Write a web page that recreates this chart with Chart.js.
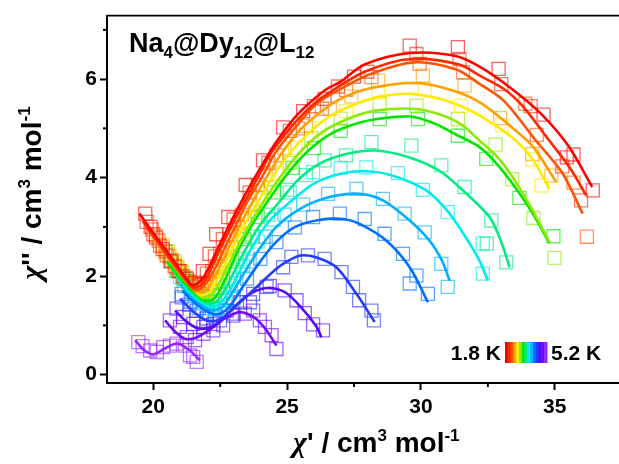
<!DOCTYPE html>
<html>
<head>
<meta charset="utf-8">
<script src="https://cdn.jsdelivr.net/npm/chart.js@4.4.1/dist/chart.umd.min.js"></script>
<style>
  html, body { margin: 0; padding: 0; background: #fff; overflow: hidden; }
  canvas { display: block; }
</style>
</head>
<body>
<canvas id="coleColeChart" width="619" height="464"></canvas>
<script>
// Cole-Cole data, chi' (x) vs chi'' (y), one pair of arrays per temperature
const temps = ['1.8', '2.0', '2.2', '2.4', '2.6', '2.8', '3.0', '3.2', '3.4', '3.6', '3.8', '4.0', '4.4', '4.8', '5.2'];

const fit18 = [[19.48,3.27],[20.0,2.88],[20.5,2.51],[21.0,2.13],[21.45,1.82],[21.8,1.92],[22.1,2.2],[22.4,2.55],[22.9,3.1],[23.5,3.72],[24.2,4.38],[24.55,4.69],[25.35,5.26],[26.4,5.77],[27.0,5.95],[27.9,6.3],[29.6,6.53],[31.3,6.47],[32.3,6.22],[33.4,5.8],[34.5,5.29],[35.5,4.65],[36.4,3.81]];
const exp18 = [[19.7,3.27],[19.9,3.0],[20.1,2.78],[20.35,2.55],[20.65,2.3],[20.95,2.1],[21.25,1.95],[21.55,1.87],[21.85,2.1],[22.1,2.45],[22.35,2.85],[22.8,3.2],[23.45,3.85],[24.1,4.35],[24.85,5.02],[25.6,5.35],[26.4,5.6],[27.5,6.05],[29.58,6.68],[31.38,6.65],[32.9,6.21],[34.58,5.28],[35.45,4.41],[35.7,4.47],[36.42,3.74]];

const fit20 = [[19.6,3.12],[20.1,2.75],[20.6,2.38],[21.1,2.02],[21.5,1.77],[21.85,1.85],[22.2,2.2],[22.5,2.55],[23.0,3.1],[23.4,3.5],[24.0,4.1],[24.4,4.5],[25.3,5.12],[26.0,5.5],[26.5,5.7],[27.9,6.15],[29.6,6.41],[31.4,6.3],[32.2,6.07],[33.1,5.8],[33.8,5.45],[34.7,4.82],[35.55,4.21],[36.17,3.64]];
const exp20 = [[19.75,3.1],[20.0,2.85],[20.25,2.62],[20.5,2.42],[20.8,2.2],[21.1,2.0],[21.4,1.85],[21.7,1.82],[22.0,2.05],[22.3,2.4],[22.6,2.75],[23.0,3.15],[23.6,3.7],[24.3,4.3],[25.1,4.95],[26.0,5.45],[26.9,5.85],[28.0,6.15],[29.83,6.51],[31.44,6.41],[33.0,5.9],[34.1,5.45],[35.28,4.23],[35.98,3.54]];

const fit22 = [[19.75,2.98],[20.2,2.66],[20.7,2.28],[21.15,1.96],[21.55,1.72],[21.9,1.8],[22.3,2.15],[22.6,2.5],[23.1,3.05],[23.5,3.5],[24.1,4.05],[24.55,4.5],[25.4,5.08],[26.1,5.5],[27.0,5.8],[28.0,6.08],[29.7,6.34],[31.3,6.2],[32.2,5.9],[33.1,5.56],[34.3,4.75],[35.3,4.08],[36.04,3.27]];
const exp22 = [[19.95,2.95],[20.2,2.72],[20.45,2.5],[20.7,2.32],[21.0,2.1],[21.3,1.9],[21.6,1.78],[21.9,1.85],[22.2,2.1],[22.5,2.45],[22.85,2.85],[23.3,3.25],[23.9,3.85],[24.6,4.45],[25.4,5.0],[26.3,5.4],[27.2,5.78],[28.15,6.04],[29.95,6.31],[31.57,6.14],[33.9,5.5],[34.33,4.87],[35.7,3.9],[36.2,2.8]];

const fit24 = [[19.95,2.82],[20.4,2.48],[20.85,2.15],[21.25,1.88],[21.65,1.68],[22.0,1.74],[22.4,2.1],[22.75,2.5],[23.2,3.0],[23.7,3.5],[24.2,3.98],[24.8,4.5],[25.5,4.98],[26.3,5.35],[27.0,5.6],[28.0,5.8],[29.7,5.92],[31.0,5.8],[32.2,5.53],[33.4,5.02],[34.2,4.62],[35.05,3.91]];
const exp24 = [[20.1,2.82],[20.35,2.6],[20.6,2.4],[20.9,2.18],[21.2,1.98],[21.5,1.82],[21.8,1.72],[22.1,1.85],[22.4,2.2],[22.75,2.6],[23.15,3.05],[23.6,3.45],[24.2,4.05],[24.9,4.6],[25.7,5.05],[26.6,5.4],[27.4,5.65],[28.4,5.97],[30.07,6.07],[31.63,5.87],[32.96,5.21],[34.16,4.48],[34.87,4.04]];

const fit26 = [[20.2,2.66],[20.6,2.35],[21.0,2.05],[21.4,1.8],[21.75,1.62],[22.1,1.68],[22.5,2.05],[22.9,2.5],[23.4,3.05],[23.9,3.5],[24.5,4.05],[25.1,4.5],[25.9,4.95],[26.7,5.28],[27.6,5.5],[28.5,5.65],[29.6,5.7],[30.7,5.6],[31.5,5.45],[32.2,5.26],[33.4,4.82],[34.2,4.35],[34.8,3.77]];
const exp26 = [[20.35,2.65],[20.6,2.45],[20.85,2.25],[21.1,2.05],[21.4,1.85],[21.7,1.7],[22.0,1.7],[22.3,1.95],[22.65,2.35],[23.0,2.75],[23.5,3.15],[24.0,3.6],[24.6,4.1],[25.3,4.6],[26.2,5.0],[27.2,5.35],[28.4,5.73],[30.14,5.8],[31.5,5.46],[33.04,5.06],[34.16,4.37],[34.5,3.84]];

const fit28 = [[20.4,2.5],[20.8,2.2],[21.2,1.92],[21.55,1.7],[21.85,1.56],[22.2,1.62],[22.6,2.0],[23.05,2.5],[23.6,3.05],[24.1,3.5],[24.7,3.98],[25.45,4.5],[26.3,4.92],[27.3,5.2],[28.3,5.36],[29.7,5.4],[30.6,5.3],[31.5,5.08],[32.19,4.75],[32.8,4.45],[33.43,4.01],[34.18,3.33],[34.8,2.69]];
const exp28 = [[20.55,2.5],[20.8,2.3],[21.05,2.1],[21.3,1.9],[21.6,1.72],[21.9,1.62],[22.2,1.7],[22.5,2.0],[22.85,2.4],[23.3,2.85],[23.8,3.3],[24.4,3.8],[25.1,4.3],[25.9,4.8],[27.0,5.2],[28.46,5.5],[29.83,5.46],[31.38,5.19],[32.79,4.67],[33.41,3.97],[34.2,3.18],[34.99,2.37]];

const fit30 = [[20.5,2.3],[20.9,2.03],[21.3,1.78],[21.6,1.62],[21.95,1.5],[22.3,1.56],[22.7,1.95],[23.15,2.5],[23.7,3.05],[24.25,3.5],[24.9,4.0],[25.7,4.5],[26.6,4.88],[27.6,5.1],[28.5,5.2],[29.6,5.24],[30.5,5.1],[31.4,4.85],[32.19,4.62],[32.8,4.3],[33.43,3.87],[34.18,3.27],[34.8,2.67]];
const exp30 = [[20.65,2.3],[20.9,2.12],[21.15,1.95],[21.4,1.8],[21.7,1.65],[22.0,1.55],[22.3,1.6],[22.6,1.9],[22.95,2.3],[23.4,2.75],[23.9,3.2],[24.5,3.7],[25.2,4.2],[26.0,4.6],[27.0,4.95],[28.46,5.19],[29.89,5.19],[31.38,4.85],[32.44,4.38],[33.68,3.59],[34.95,2.81]];

const fit32 = [[20.7,2.12],[21.1,1.88],[21.5,1.65],[21.8,1.5],[22.05,1.44],[22.4,1.5],[22.8,1.85],[23.4,2.5],[24.0,3.05],[24.7,3.5],[25.4,3.95],[26.2,4.28],[27.2,4.48],[28.3,4.55],[29.57,4.41],[30.69,4.14],[31.57,3.74],[32.56,3.2],[33.0,2.7],[33.31,2.18]];
const exp32 = [[20.85,2.1],[21.1,1.95],[21.35,1.8],[21.6,1.65],[21.9,1.52],[22.2,1.48],[22.5,1.62],[22.85,1.95],[23.25,2.35],[23.7,2.8],[24.3,3.25],[25.0,3.75],[25.7,4.05],[26.4,4.35],[27.2,4.45],[28.15,4.72],[29.64,4.65],[30.76,4.25],[31.63,3.81],[32.63,3.13],[32.46,2.66],[33.19,2.28]];

const fit34 = [[20.87,1.98],[21.3,1.7],[21.7,1.5],[22.1,1.38],[22.5,1.45],[22.9,1.75],[23.6,2.5],[24.3,3.1],[25.1,3.5],[26.0,3.88],[27.0,4.08],[27.96,4.13],[28.96,4.04],[30.2,3.74],[31.07,3.27],[31.82,2.66],[32.2,2.3],[32.5,1.91]];
const exp34 = [[21.0,1.98],[21.3,1.8],[21.6,1.6],[21.9,1.46],[22.2,1.4],[22.5,1.5],[22.9,1.8],[23.35,2.2],[23.9,2.7],[24.5,3.15],[25.1,3.7],[25.97,4.11],[27.0,4.2],[27.96,4.21],[29.14,4.09],[30.07,3.75],[31.0,3.3],[32.31,2.66],[32.31,2.05]];

const fit36 = [[21.0,1.85],[21.4,1.6],[21.8,1.42],[22.2,1.3],[22.6,1.38],[23.1,1.8],[23.9,2.5],[24.6,3.0],[25.6,3.4],[26.7,3.62],[27.71,3.67],[28.58,3.54],[29.58,3.13],[30.32,2.72],[30.8,2.3],[31.07,1.91]];
const exp36 = [[21.15,1.8],[21.45,1.6],[21.75,1.45],[22.05,1.35],[22.35,1.32],[22.7,1.5],[23.1,1.85],[23.6,2.3],[24.2,2.8],[24.9,3.25],[25.6,3.45],[26.53,3.67],[27.59,3.77],[28.58,3.57],[29.39,3.27],[30.14,2.89],[30.76,2.25],[31.0,1.78]];

const fit38 = [[21.1,1.7],[21.5,1.48],[21.9,1.32],[22.35,1.22],[22.8,1.35],[23.3,1.75],[24.0,2.3],[24.6,2.7],[25.3,3.0],[26.2,3.14],[27.1,3.16],[27.71,3.06],[28.71,2.72],[29.58,2.18],[30.26,1.47]];
const exp38 = [[21.06,1.64],[21.4,1.48],[21.7,1.35],[22.0,1.27],[22.3,1.2],[22.65,1.3],[23.0,1.55],[23.5,1.95],[24.0,2.35],[24.6,2.69],[25.29,2.99],[25.97,3.2],[26.97,3.27],[27.9,3.16],[28.64,2.86],[29.33,2.45],[29.83,2.01],[29.58,1.85],[30.26,1.64]];

const fit40 = [[21.0,1.54],[21.5,1.28],[21.99,1.1],[22.5,1.12],[23.0,1.35],[23.86,1.78],[24.6,2.15],[25.0,2.3],[25.5,2.42],[26.1,2.38],[26.84,2.18],[27.59,1.64],[28.27,1.07]];
const exp40 = [[21.06,1.57],[21.35,1.42],[21.62,1.3],[21.99,1.14],[22.49,1.1],[22.99,1.24],[23.61,1.47],[24.23,1.78],[24.85,2.18],[25.16,2.39],[25.78,2.42],[26.4,2.35],[27.03,2.08],[27.46,1.78],[27.69,1.51],[28.15,1.3],[28.24,1.1]];

const fit44 = [[20.81,1.3],[21.3,1.05],[21.74,0.93],[22.3,1.0],[22.8,1.25],[23.5,1.6],[24.23,1.76],[24.9,1.68],[25.5,1.38],[26.1,0.97],[26.28,0.76]];
const exp44 = [[20.87,1.34],[21.12,1.17],[21.49,1.03],[21.87,0.97],[22.24,1.03],[22.74,1.3],[23.24,1.47],[23.73,1.64],[24.35,1.8],[24.91,1.71],[25.35,1.51],[25.66,1.25],[25.97,1.02],[26.34,0.9]];

const fit48 = [[20.44,1.1],[20.8,0.88],[21.18,0.73],[21.6,0.75],[22.2,0.95],[22.7,1.15],[23.24,1.27],[23.8,1.15],[24.2,0.92],[24.6,0.59]];
const exp48 = [[20.62,1.1],[21.0,0.97],[21.25,0.76],[21.56,0.7],[21.87,0.83],[22.24,0.9],[22.61,1.0],[22.99,1.2],[23.42,1.24],[23.73,1.3],[23.98,1.1],[24.17,0.97],[24.42,0.8],[24.6,0.52]];

const fit52 = [[19.32,0.7],[19.65,0.5],[20.0,0.41],[20.4,0.52],[20.87,0.63],[21.3,0.52],[21.74,0.29]];
const exp52 = [[19.44,0.66],[19.6,0.58],[19.88,0.49],[20.13,0.46],[20.37,0.56],[20.62,0.59],[20.87,0.63],[21.18,0.59],[21.37,0.39],[21.49,0.36],[21.62,0.26]];

const fitSets = [fit18, fit20, fit22, fit24, fit26, fit28, fit30, fit32, fit34, fit36, fit38, fit40, fit44, fit48, fit52];
const expSets = [exp18, exp20, exp22, exp24, exp26, exp28, exp30, exp32, exp34, exp36, exp38, exp40, exp44, exp48, exp52];

const xTicks = [20, 25, 30, 35];
const yTicks = [0, 2, 4, 6];

// rainbow, cold (red) to warm (violet)
const rgb = [
    [255, 0, 0], [255, 40, 0], [255, 85, 0], [255, 160, 0], [255, 235, 0],
    [140, 235, 0], [0, 230, 0], [0, 235, 130], [0, 235, 235], [0, 175, 255],
    [0, 110, 255], [35, 60, 255], [85, 10, 255], [115, 10, 245], [150, 40, 255]
];
const lineColors = rgb.map(c => `rgb(${c[0]}, ${c[1]}, ${c[2]})`);
const squareColors = rgb.map(c => `rgba(${c[0]}, ${c[1]}, ${c[2]}, 0.62)`);

const sans = '"Liberation Sans", Arial, Helvetica, sans-serif';

const datasets = [];
fitSets.forEach((fit, i) => {
    datasets.push({
        label: temps[i] + ' K fit',
        data: fit.map(p => ({ x: p[0], y: p[1] })),
        showLine: true,
        borderColor: lineColors[i],
        borderWidth: 2.6,
        pointRadius: 0,
        tension: 0.3,
        order: 0
    });
});
expSets.forEach((exp, i) => {
    datasets.push({
        label: temps[i] + ' K',
        data: exp.map(p => ({ x: p[0], y: p[1] })),
        showLine: false,
        pointStyle: 'rect',
        pointRadius: 9.2,
        borderColor: squareColors[i],
        backgroundColor: 'rgba(0,0,0,0)',
        borderWidth: 1.3,
        order: 1
    });
});

function drawRich(ctx, parts, x, y) {
    parts.forEach(p => {
        ctx.font = p.font;
        ctx.fillText(p.text, x, y + (p.dy || 0));
        x += ctx.measureText(p.text).width;
    });
}
function richWidth(ctx, parts) {
    let w = 0;
    parts.forEach(p => { ctx.font = p.font; w += ctx.measureText(p.text).width; });
    return w;
}

const big = 'bold 28px ' + sans;
const sup = 'bold 17px ' + sans;
const chi = 'bold italic 30px "Liberation Serif", "DejaVu Serif", serif';

// frame top line, minor ticks, labels and the temperature colour bar
const decorPlugin = {
    id: 'decor',
    afterDraw(chart) {
        const ctx = chart.ctx;
        const area = chart.chartArea;
        const xs = chart.scales.x;
        const ys = chart.scales.y;
        ctx.save();
        ctx.strokeStyle = '#000';
        ctx.lineWidth = 1.6;
        ctx.beginPath();
        ctx.moveTo(area.left, area.top);
        ctx.lineTo(chart.width, area.top);
        ctx.stroke();

        ctx.lineWidth = 2;
        [22.5, 27.5, 32.5].forEach(v => {
            const px = xs.getPixelForValue(v);
            ctx.beginPath();
            ctx.moveTo(px, area.bottom);
            ctx.lineTo(px, area.bottom + 4);
            ctx.stroke();
        });
        [1, 3, 5, 7].forEach(v => {
            const py = ys.getPixelForValue(v);
            ctx.beginPath();
            ctx.moveTo(area.left, py);
            ctx.lineTo(area.left - 4, py);
            ctx.stroke();
        });

        ctx.fillStyle = '#000';
        ctx.textBaseline = 'alphabetic';
        ctx.textAlign = 'left';
        const main = 'bold 27px ' + sans;
        const sub = 'bold 17px ' + sans;
        drawRich(ctx, [
            { text: 'Na', font: main }, { text: '4', font: sub, dy: 6 },
            { text: '@Dy', font: main }, { text: '12', font: sub, dy: 6 },
            { text: '@L', font: main }, { text: '12', font: sub, dy: 6 }
        ], 129, 52);

        const xTitle = [
            { text: 'χ', font: chi }, { text: '\'', font: big },
            { text: ' / cm', font: big }, { text: '3', font: sup, dy: -11 },
            { text: ' mol', font: big }, { text: '-1', font: sup, dy: -11 }
        ];
        drawRich(ctx, xTitle, 293, 452);

        const yTitle = [
            { text: 'χ', font: chi }, { text: '\'\'', font: big },
            { text: ' / cm', font: big }, { text: '3', font: sup, dy: -11 },
            { text: ' mol', font: big }, { text: '-1', font: sup, dy: -11 }
        ];
        const yw = richWidth(ctx, yTitle);
        ctx.save();
        ctx.translate(41, 193 + yw / 2);
        ctx.rotate(-Math.PI / 2);
        drawRich(ctx, yTitle, 0, 0);
        ctx.restore();

        // colour bar
        const barX = 505, barY = 342, barW = 42, barH = 21;
        const step = barW / lineColors.length;
        lineColors.forEach((c, i) => {
            ctx.fillStyle = c;
            ctx.fillRect(barX + i * step, barY, step + 0.5, barH);
        });
        ctx.fillStyle = '#000';
        ctx.font = 'bold 21px ' + sans;
        ctx.textAlign = 'right';
        ctx.fillText(temps[0] + ' K', 501, 360);
        ctx.textAlign = 'left';
        ctx.fillText(temps[temps.length - 1] + ' K', 551, 360);
        ctx.restore();
    }
};

const ctxColeCole = document.getElementById('coleColeChart').getContext('2d');
const coleColeChart = new Chart(ctxColeCole, {
    type: 'scatter',
    data: { datasets: datasets },
    options: {
        responsive: false,
        animation: false,
        devicePixelRatio: 1,
        events: [],
        layout: { autoPadding: false, padding: { left: 0, top: 15, right: 0, bottom: 0 } },
        plugins: {
            legend: { display: false },
            tooltip: { enabled: false }
        },
        scales: {
            x: {
                type: 'linear',
                min: 18.27,
                max: 37.4,
                afterFit: scale => { scale.height = 81; },
                afterBuildTicks: scale => { scale.ticks = xTicks.map(v => ({ value: v })); },
                ticks: {
                    color: '#000',
                    padding: 5,
                    maxRotation: 0,
                    font: { family: sans, size: 21, weight: 'bold' }
                },
                grid: {
                    drawOnChartArea: false,
                    tickLength: 7,
                    tickWidth: 2,
                    tickColor: '#000'
                },
                border: { color: '#000', width: 2 }
            },
            y: {
                type: 'linear',
                min: -0.17,
                max: 7.29,
                afterFit: scale => { scale.width = 107; },
                afterBuildTicks: scale => { scale.ticks = yTicks.map(v => ({ value: v })); },
                ticks: {
                    color: '#000',
                    padding: 3,
                    font: { family: sans, size: 21, weight: 'bold' }
                },
                grid: {
                    drawOnChartArea: false,
                    tickLength: 7,
                    tickWidth: 2,
                    tickColor: '#000'
                },
                border: { color: '#000', width: 2 }
            }
        }
    },
    plugins: [decorPlugin]
});
</script>
</body>
</html>
